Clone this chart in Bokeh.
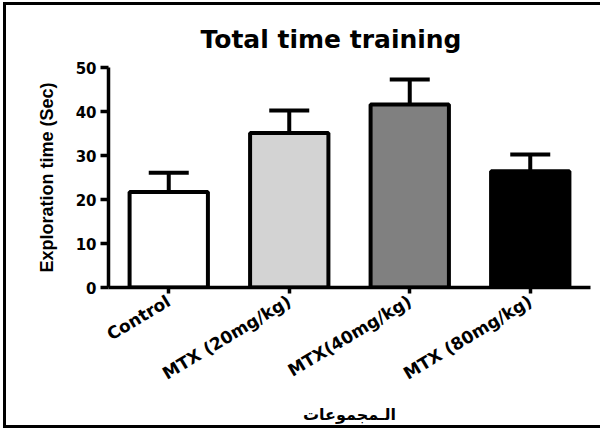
import math
from bokeh.plotting import figure
from bokeh.models import ColumnDataSource, FactorRange, Range1d, Whisker, TeeHead, FixedTicker
from bokeh.embed import file_html
from bokeh.resources import INLINE

# ---- data ----
groups = ["Control", "MTX (20mg/kg)", "MTX(40mg/kg)", "MTX (80mg/kg)"]
means = [21.7, 35.1, 41.6, 26.4]
errors = [4.4, 5.1, 5.7, 3.8]
colors = ["#ffffff", "#d3d3d3", "#808080", "#000000"]
y_ticks = [0, 10, 20, 30, 40, 50]

title_text = "Total time training"
y_label = "Exploration time (Sec)"
x_label = "الـمجموعات"

src = ColumnDataSource(data=dict(
    x=groups, top=means, color=colors,
    upper=[m + e for m, e in zip(means, errors)],
    lower=means,
))

p = figure(
    width=597, height=426,
    x_range=FactorRange(factors=groups, range_padding=0),
    y_range=Range1d(0, 50),
    output_backend="svg", toolbar_location=None,
    min_border_left=102, min_border_right=13,
    min_border_top=62, min_border_bottom=144,
    title=title_text,
)
p.styles = {
    "border-left": "3px solid black",
    "border-top": "3px solid black",
    "border-bottom": "3px solid black",
    "margin-left": "3px",
    "margin-top": "2px",
}
p.outline_line_color = None
p.xgrid.visible = False
p.ygrid.visible = False
p.background_fill_color = "white"
p.border_fill_color = "white"

p.title.align = "left"
p.title.offset = 92
p.title.text_font = "DejaVu Sans"
p.title.text_font_style = "bold"
p.title.text_font_size = "25px"
p.title.text_color = "black"
p.title.standoff = 28

p.vbar(x="x", top="top", bottom=0, width=0.65, source=src,
       fill_color="color", line_color="black", line_width=4)

w = Whisker(base="x", upper="upper", lower="lower", source=src,
            line_width=4, line_color="black",
            upper_head=TeeHead(size=40, line_width=4, line_color="black"),
            lower_head=None)
p.add_layout(w)

# axes
ya = p.yaxis[0]
ya.ticker = FixedTicker(ticks=y_ticks)
ya.minor_tick_line_color = None
ya.major_tick_in = 0
ya.major_tick_out = 8
ya.major_tick_line_width = 3.5
ya.axis_line_width = 3.5
ya.major_label_text_font = "DejaVu Sans"
ya.major_label_text_font_style = "bold"
ya.major_label_text_font_size = "15px"
ya.major_label_text_color = "black"
ya.major_label_standoff = 4
ya.axis_label = y_label
ya.axis_label_text_font = "Liberation Sans"
ya.axis_label_text_font_style = "bold"
ya.axis_label_text_font_size = "18px"
ya.axis_label_text_color = "black"
ya.axis_label_standoff = 16

xa = p.xaxis[0]
xa.major_tick_in = 0
xa.major_tick_out = 6
xa.major_tick_line_width = 3.5
xa.axis_line_width = 3.5
xa.minor_tick_line_color = None
xa.major_label_orientation = math.radians(31)
xa.major_label_text_font = "DejaVu Sans"
xa.major_label_text_font_style = "bold"
xa.major_label_text_font_size = "17px"
xa.major_label_text_color = "black"
xa.major_label_standoff = 6
xa.axis_label = x_label
xa.axis_label_text_font = "DejaVu Sans"
xa.axis_label_text_font_style = "bold"
xa.axis_label_text_font_size = "16px"
xa.axis_label_text_color = "black"
xa.axis_label_standoff = 10

open("out.html", "w").write(file_html(p, INLINE))
